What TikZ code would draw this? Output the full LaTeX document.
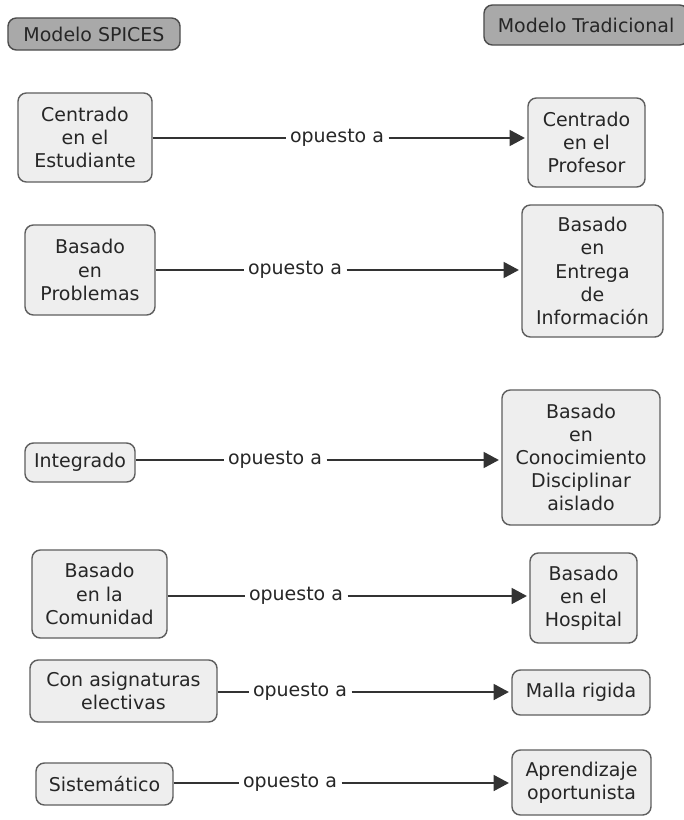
\documentclass[tikz,border=0pt]{standalone}
\usepackage{fontspec}
\usepackage{tikz}
\usetikzlibrary{arrows.meta, positioning}
\newfontfamily\dvsans{DejaVu Sans}
\definecolor{boxfill}{HTML}{EEEEEE}
\definecolor{boxline}{HTML}{5E5E5E}
\definecolor{headfill}{HTML}{A9A9A9}
\tikzset{
  concept/.style={draw=boxline, fill=boxfill, rounded corners=6pt, line width=1pt,
    align=center, text=black!85, inner sep=2pt,
    font={\dvsans\fontsize{13.5}{16.5}\selectfont}},
  header/.style={concept, fill=headfill, draw=black!70},
  linkword/.style={fill=white, inner sep=3pt, text=black!85,
    font={\dvsans\fontsize{13.5}{16.5}\selectfont}},
  rel/.style={line width=1pt, draw=black!80}
}
\begin{document}
\begin{tikzpicture}[x=0.025cm, y=-0.025cm]
	\useasboundingbox (0,0) rectangle (683,820);
	% Headers
	\node[header, minimum width=4.3cm, minimum height=0.8cm] (spices) at (94,34) {Modelo SPICES};
	\node[header, minimum width=5.1cm, minimum height=1cm] (trad) at (586,25) {Modelo Tradicional};
	% Centrado
	\node[concept, minimum width=3.35cm, minimum height=2.225cm] (estud) at (85,137.5) {Centrado\\en el\\Estudiante};
	\node[concept, minimum width=2.925cm, minimum height=2.225cm] (prof) at (586.5,142.5) {Centrado\\en el\\Profesor};
	\node[linkword] (op1) at (337,138) {opuesto a};
	% Basado en problemas
	\node[concept, minimum width=3.25cm, minimum height=2.25cm] (probl) at (90,270) {Basado\\en\\Problemas};
	\node[concept, minimum width=3.525cm, minimum height=3.3cm] (entrega) at (592.5,271) {Basado\\en\\Entrega\\de\\Información};
	\node[linkword] (op2) at (295,270) {opuesto a};
	% Integrado
	\node[concept, minimum width=2.75cm, minimum height=0.975cm] (integ) at (80,462.5) {Integrado};
	\node[concept, minimum width=3.95cm, minimum height=3.375cm] (discip) at (581,457.5) {Basado\\en\\Conocimiento\\Disciplinar\\aislado};
	\node[linkword] (op3) at (275,460) {opuesto a};
	% Comunidad
	\node[concept, minimum width=3.375cm, minimum height=2.2cm] (comun) at (99.5,594) {Basado\\en la\\Comunidad};
	\node[concept, minimum width=2.675cm, minimum height=2.25cm] (hosp) at (583.5,598) {Basado\\en el\\Hospital};
	\node[linkword] (op4) at (296,596) {opuesto a};
	% Electivas
	\node[concept, minimum width=4.675cm, minimum height=1.55cm] (elect) at (123.5,691) {Con asignaturas\\electivas};
	\node[concept, minimum width=3.45cm, minimum height=1.125cm] (malla) at (581,692.5) {Malla rigida};
	\node[linkword] (op5) at (300,692) {opuesto a};
	% Sistematico
	\node[concept, minimum width=3.425cm, minimum height=1.05cm] (sist) at (104.5,784) {Sistemático};
	\node[concept, minimum width=3.475cm, minimum height=1.625cm] (oport) at (581.5,782.5) {Aprendizaje\\oportunista};
	\node[linkword] (op6) at (290,783) {opuesto a};
	% Links
	\foreach \l/\m/\r in {estud/op1/prof, probl/op2/entrega, integ/op3/discip,
	                     comun/op4/hosp, elect/op5/malla, sist/op6/oport} {
		\draw[rel] (\m -| \l.east) -- (\m.west);
		\draw[rel, -{Triangle[length=0.38cm, width=0.4cm]}, shorten >=0.06cm] (\m.east) -- (\m -| \r.west);
	}
\end{tikzpicture}
\end{document}
